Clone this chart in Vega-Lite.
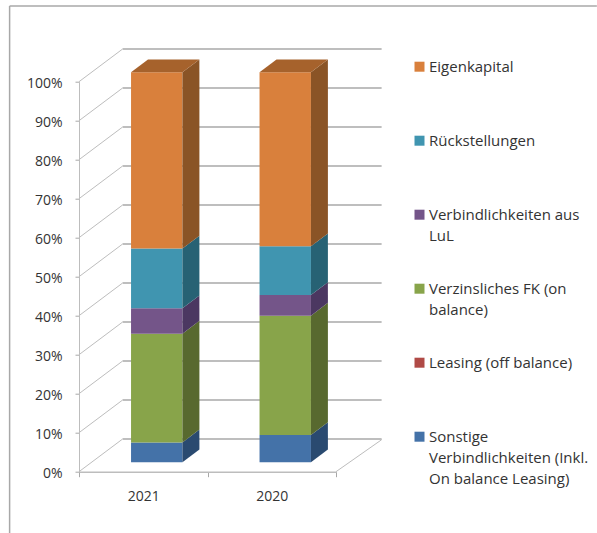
{
"$schema":"https://vega.github.io/schema/vega-lite/v6.json",
"width":257,"height":390,
"autosize":{"type":"none"},
"padding":{"left":79,"top":81.7,"right":261,"bottom":61.3},
"background":"white",
"config":{"view":{"stroke":null},"font":"Open Sans","axis":{"labelOverlap":false},"axisY":{"labelOverlap":false,"tickCount":11}},
"layer":[
{"data":{"values":[{"side":"frame"}]},
 "layer":[
 {"mark":{"type":"rule","color":"#a8a8a8","strokeWidth":1.5},
  "encoding":{"x":{"datum":-0.54,"type":"quantitative","scale":{"domain":[0,2]},
    "axis":{"title":null,"grid":false,"values":[0,0.5,1,1.5,2],"domainColor":"#bdbdbd","domainWidth":1.5,"tickColor":"#a8a8a8","tickSize":5,
     "tickOpacity":{"condition":{"test":"datum.value%1!==0","value":0},"value":1},
     "labelExpr":"datum.value===0.5?'2021':datum.value===1.5?'2020':''","labelFont":"Open Sans","labelFontSize":14,"labelColor":"#333","labelPadding":13,"labelOverlap":false}},
   "y":{"datum":119.4,"type":"quantitative","scale":{"domain":[0,100]},
    "axis":{"title":null,"grid":false,"tickCount":11,"values":[0,10,20,30,40,50,60,70,80,90,100],"domainColor":"#bdbdbd","tickColor":"#a8a8a8","tickSize":4,
     "labelExpr":"datum.value+'%'","labelFont":"Open Sans","labelFontSize":14,"labelColor":"#333","labelPadding":13,"labelOffset":2,"labelOverlap":false}},
   "y2":{"datum":-15.7}}},
 {"mark":{"type":"rule","color":"#a8a8a8","strokeWidth":1.5},
  "encoding":{"x":{"datum":-0.54},"x2":{"datum":4.03},"y":{"datum":119.4}}},
 {"mark":{"type":"rule","color":"#bdbdbd","strokeWidth":1},
  "encoding":{"x":{"datum":2},"x2":{"datum":2.355},"y":{"datum":0},"y2":{"datum":8.2}}}
 ]},
{"data":{"values":[{"pct":0},{"pct":10},{"pct":20},{"pct":30},{"pct":40},{"pct":50},{"pct":60},{"pct":70},{"pct":80},{"pct":90},{"pct":100}]},
 "transform":[{"calculate":"datum.pct+8.4","as":"back"}],
 "layer":[
 {"mark":{"type":"rule","color":"#a9a9a9","strokeWidth":1.4},
  "encoding":{"x":{"datum":0.34},"x2":{"datum":2.355},"y":{"field":"back","type":"quantitative"}}},
 {"mark":{"type":"rule","color":"#bdbdbd","strokeWidth":1},
  "encoding":{
   "x":{"datum":0},
   "x2":{"datum":0.34},
   "y":{"field":"pct","type":"quantitative"},
   "y2":{"field":"back"}}}
 ]},
{"data":{"values":[
 {"year":"2021","series":"Sonstige Verbindlichkeiten (Inkl. On balance Leasing)","value":5.1},
 {"year":"2021","series":"Leasing (off balance)","value":0},
 {"year":"2021","series":"Verzinsliches FK (on balance)","value":27.9},
 {"year":"2021","series":"Verbindlichkeiten aus LuL","value":6.5},
 {"year":"2021","series":"Rückstellungen","value":15.3},
 {"year":"2021","series":"Eigenkapital","value":45.2},
 {"year":"2020","series":"Sonstige Verbindlichkeiten (Inkl. On balance Leasing)","value":7.0},
 {"year":"2020","series":"Leasing (off balance)","value":0},
 {"year":"2020","series":"Verzinsliches FK (on balance)","value":30.6},
 {"year":"2020","series":"Verbindlichkeiten aus LuL","value":5.3},
 {"year":"2020","series":"Rückstellungen","value":12.5},
 {"year":"2020","series":"Eigenkapital","value":44.6}
 ]},
 "transform":[
  {"stack":"value","groupby":["year"],"as":["v0","v1"]},
  {"calculate":"(datum.year==='2021'?0:1)+0.605","as":"c"},
  {"calculate":"datum.c-0.2","as":"fl"},
  {"calculate":"datum.c+0.2","as":"fr"},
  {"calculate":"datum.v0+2.4","as":"y0"},
  {"calculate":"datum.v1+2.4","as":"y1"},
  {"calculate":"[0,1]","as":"d"},
  {"flatten":["d"]},
  {"calculate":"datum.fr+datum.d*0.132","as":"sx"},
  {"calculate":"datum.fl+datum.d*0.132","as":"tl"},
  {"calculate":"datum.y0+datum.d*3.3","as":"sy0"},
  {"calculate":"datum.y1+datum.d*3.3","as":"sy1"}
 ],
 "layer":[
 {"transform":[{"filter":"datum.d===0"}],
  "mark":{"type":"rect"},
  "encoding":{
   "x":{"field":"fl","type":"quantitative"},"x2":{"field":"fr"},
   "y":{"field":"y0","type":"quantitative"},"y2":{"field":"y1"},
   "color":{"field":"series","type":"nominal",
    "scale":{"domain":["Eigenkapital","Rückstellungen","Verbindlichkeiten aus LuL","Verzinsliches FK (on balance)","Leasing (off balance)","Sonstige Verbindlichkeiten (Inkl. On balance Leasing)"],
     "range":["#d9803c","#4095b0","#745589","#88a44a","#b04a46","#4472a8"]},
    "legend":{"title":null,"orient":"none","legendX":333,"legendY":-22.5,"symbolType":"square","symbolSize":100,"symbolStrokeWidth":0,"symbolOpacity":1,"gridAlign":"all","rowPadding":16,"labelFont":"Open Sans","labelFontSize":15,"labelColor":"#333","labelLimit":200,"labelBaseline":"top","labelOffset":2,"labelOverlap":false,
     "encoding":{"labels":{"lineHeight":{"value":21},"dy":{"value":-7}}},
     "labelExpr":"datum.label==='Verbindlichkeiten aus LuL'?['Verbindlichkeiten aus','LuL']:datum.label==='Verzinsliches FK (on balance)'?['Verzinsliches FK (on','balance)']:datum.label==='Sonstige Verbindlichkeiten (Inkl. On balance Leasing)'?['Sonstige','Verbindlichkeiten (Inkl.','On balance Leasing)']:datum.label"}}}},
 {"mark":{"type":"area"},
  "encoding":{
   "x":{"field":"sx","type":"quantitative"},
   "y":{"field":"sy0","type":"quantitative"},"y2":{"field":"sy1"},
   "detail":[{"field":"year"},{"field":"series"}],
   "fill":{"field":"series","type":"nominal","legend":null,
    "scale":{"domain":["Eigenkapital","Rückstellungen","Verbindlichkeiten aus LuL","Verzinsliches FK (on balance)","Leasing (off balance)","Sonstige Verbindlichkeiten (Inkl. On balance Leasing)"],
     "range":["#8a5426","#276274","#4b3761","#58692f","#7a2f2d","#2a4a70"]}}}},
 {"transform":[{"filter":"datum.series==='Eigenkapital'"}],
  "mark":{"type":"area","orient":"horizontal","color":"#a6622c"},
  "encoding":{
   "x":{"field":"tl","type":"quantitative"},"x2":{"field":"sx"},
   "y":{"field":"sy1","type":"quantitative"},
   "detail":{"field":"year"}}}
 ]}
]
}
